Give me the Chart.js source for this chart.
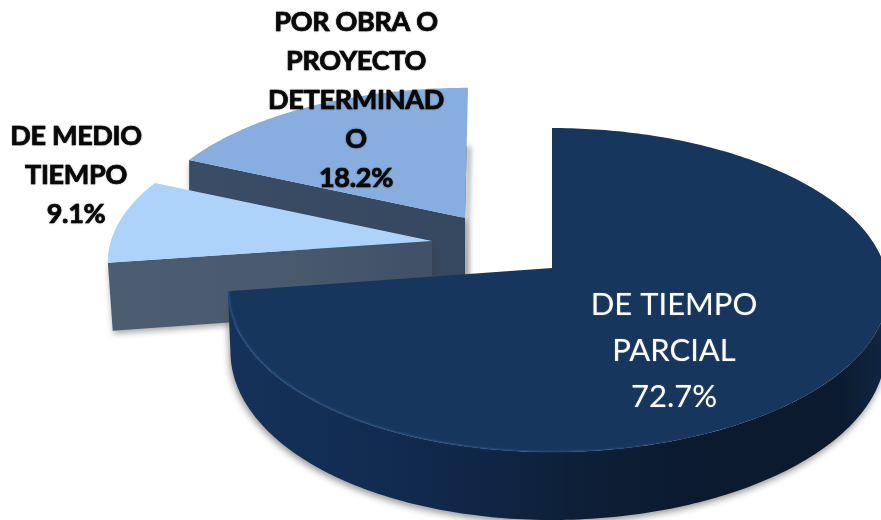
<!DOCTYPE html>
<html>
<head>
<meta charset="utf-8">
<style>html,body{margin:0;padding:0;background:#fff}canvas{display:block}</style>
<script src="https://cdn.jsdelivr.net/npm/chart.js@4/dist/chart.umd.min.js"></script>
</head>
<body>
<canvas id="c" width="881" height="520"></canvas>
<script>
const categories = ['DE TIEMPO PARCIAL', 'DE MEDIO TIEMPO', 'POR OBRA O PROYECTO DETERMINADO'];
const percentages = [72.7, 9.1, 18.2];
const labelLines = [['DE TIEMPO', 'PARCIAL'], ['DE MEDIO', 'TIEMPO'], ['POR OBRA O', 'PROYECTO', 'DETERMINAD', 'O']];
const faceColors = ['#17365d', '#add3fb', '#87aede'];

/* 3D view of the pie: perspective disc, per-slice explosion and depth */
const view = { dx: 111.5, dy: 8, rx: 1.258, ry: 0.6115, skew: 6, persp: 0.136 };
const explode = [
  { dx: 0, dy: 0, sy: 1, depth: 60, base: 0.992, lean: 0 },
  { dx: -120, dy: -27, sy: 0.93, depth: 67, base: 0.985, lean: 0 },
  { dx: -87, dy: -50, sy: 0.93, depth: 66, base: 1, lean: 3 }
];
const labelStyle = [
  { x: 674, y: 315, pitch: 46, font: '31px Lato', color: '#ffffff', spacing: 0 },
  { x: 76, y: 145, pitch: 39, font: 'bold 27px Lato', color: '#0a0a0a', spacing: -0.3 },
  { x: 356, y: 31, pitch: 39, font: 'bold 27px Lato', color: '#0a0a0a', spacing: -0.3 }
];

function project(arc, ex, angle, drop, scale) {
  const u = Math.cos(angle), v = Math.sin(angle);
  const R = arc.outerRadius;
  const w = 1 - view.persp * v;
  return {
    x: arc.x + view.dx + ex.dx + scale * (R * view.rx * u + view.skew * u * u) / w + ex.lean * Math.max(0, -v),
    y: arc.y + view.dy + ex.dy + scale * ex.sy * R * view.ry * v / w + drop / w
  };
}
function apex(arc, ex, drop) {
  return { x: arc.x + view.dx + ex.dx, y: arc.y + view.dy + ex.dy + drop };
}
function rimPoints(arc, ex, from, to, drop, scale) {
  const pts = [], n = Math.max(8, Math.ceil((to - from) * 60));
  for (let i = 0; i <= n; i++) pts.push(project(arc, ex, from + (to - from) * i / n, drop, scale));
  return pts;
}
function trace(ctx, pts) {
  pts.forEach((p, i) => i ? ctx.lineTo(p.x, p.y) : ctx.moveTo(p.x, p.y));
}
function hGrad(ctx, x0, x1, stops) {
  const g = ctx.createLinearGradient(x0, 0, x1, 0);
  stops.forEach(s => g.addColorStop(s[0], s[1]));
  return g;
}
function withShadow(ctx, color, blur, ox, oy, fn) {
  ctx.save();
  ctx.shadowColor = color; ctx.shadowBlur = blur; ctx.shadowOffsetX = ox; ctx.shadowOffsetY = oy;
  fn();
  ctx.restore();
}

function drawSlice(ctx, arc, i) {
  const ex = explode[i], p = arc.getProps(['startAngle', 'endAngle', 'x', 'y', 'outerRadius'], true);
  const a = { x: p.x, y: p.y, outerRadius: p.outerRadius };
  const top = rimPoints(a, ex, p.startAngle, p.endAngle, 0, 1);
  const A = apex(a, ex, 0), B = apex(a, ex, ex.depth);

  if (i === 0) {
    /* curved front wall: only the part of the rim facing the viewer */
    const frontEnd = Math.min(p.endAngle, Math.PI * 1.12);
    const frontTop = rimPoints(a, ex, Math.max(p.startAngle, -0.05), frontEnd, 0, 1);
    const frontBot = rimPoints(a, ex, Math.max(p.startAngle, -0.05), frontEnd, ex.depth, ex.base);
    const band = frontTop.concat(frontBot.slice().reverse());
    ctx.fillStyle = hGrad(ctx, 228, 881, [[0, '#15325a'], [0.2, '#122c52'], [0.38, '#102647'], [0.52, '#0e2039'], [0.7, '#0b1a2e'], [0.93, '#0b1a2d'], [1, '#102540']]);
    withShadow(ctx, 'rgba(60,60,60,0.55)', 7, -1, 3, () => {
      ctx.beginPath(); trace(ctx, band); ctx.closePath(); ctx.fill();
    });
  } else {
    /* inner cut wall facing the viewer */
    const t0 = top[0];
    const b0 = project(a, ex, p.startAngle, ex.depth, ex.base);
    ctx.fillStyle = i === 1
      ? hGrad(ctx, t0.x, A.x, [[0, '#4d5d71'], [0.55, '#4a5a6e'], [1, '#3f5067']])
      : hGrad(ctx, t0.x, A.x, [[0, '#3b4c66'], [1, '#364760']]);
    withShadow(ctx, 'rgba(60,60,60,0.45)', 6, 1, 3, () => {
      ctx.beginPath();
      ctx.moveTo(t0.x, t0.y); ctx.lineTo(A.x, A.y); ctx.lineTo(B.x, B.y); ctx.lineTo(b0.x, b0.y);
      ctx.closePath();
      ctx.fill();
    });
    if (i === 2) {
      /* thin shade falling to the right of the back slice */
      const t1 = top[top.length - 1];
      const m = { x: A.x + (t1.x - A.x) * 0.55, y: A.y + (t1.y - A.y) * 0.55 };
      withShadow(ctx, 'rgba(60,60,60,0.5)', 5, 4, 0, () => {
        ctx.beginPath();
        ctx.moveTo(m.x, m.y); ctx.lineTo(A.x, A.y); ctx.lineTo(B.x, B.y); ctx.lineTo(B.x - 4, B.y);
        ctx.lineTo(m.x - 4, m.y);
        ctx.closePath();
        ctx.fill();
      });
    }
  }

  /* top face */
  ctx.fillStyle = arc.options.backgroundColor;
  ctx.beginPath();
  ctx.moveTo(A.x, A.y);
  top.forEach(q => ctx.lineTo(q.x, q.y));
  ctx.closePath();
  ctx.fill();

  /* bevel highlight along the big slice's front rim */
  if (i === 0) {
    ctx.save();
    ctx.beginPath();
    trace(ctx, rimPoints(a, ex, 0.35, p.endAngle, 0, 0.997));
    ctx.lineWidth = 1.6;
    ctx.lineCap = 'round';
    ctx.shadowColor = 'rgba(40,80,130,0.5)';
    ctx.shadowBlur = 3;
    ctx.strokeStyle = hGrad(ctx, 228, 881, [[0, 'rgba(38,78,128,0.8)'], [0.5, 'rgba(38,78,128,0.6)'], [0.8, 'rgba(30,60,100,0)'], [1, 'rgba(30,60,100,0)']]);
    ctx.stroke();
    ctx.restore();
  }
}

const pie3d = {
  id: 'pie3d',
  beforeDatasetsDraw(chart) {
    const ctx = chart.ctx, arcs = chart.getDatasetMeta(0).data;
    ctx.save();
    [2, 1, 0].forEach(i => drawSlice(ctx, arcs[i], i));
    ctx.restore();
    return false;
  },
  afterDraw(chart) {
    const ctx = chart.ctx;
    ctx.save();
    ctx.textAlign = 'center';
    ctx.textBaseline = 'alphabetic';
    labelStyle.forEach((s, i) => {
      const lines = labelLines[i].concat(percentages[i].toFixed(1) + '%');
      ctx.font = s.font;
      ctx.letterSpacing = s.spacing + 'px';
      ctx.fillStyle = s.color;
      ctx.shadowColor = i ? 'rgba(0,0,0,0.45)' : 'rgba(255,255,255,0.3)';
      ctx.shadowBlur = 1.5;
      lines.forEach((t, k) => {
        ctx.fillText(t, s.x, s.y + k * s.pitch);
        if (i) { ctx.lineWidth = 0.7; ctx.strokeStyle = s.color; ctx.strokeText(t, s.x, s.y + k * s.pitch); }
      });
    });
    ctx.restore();
  }
};

new Chart(document.getElementById('c'), {
  type: 'pie',
  data: { labels: categories, datasets: [{ data: percentages, backgroundColor: faceColors, borderWidth: 0 }] },
  options: {
    responsive: false,
    animation: false,
    rotation: 0,
    layout: { padding: 0 },
    plugins: { legend: { display: false }, tooltip: { enabled: false }, title: { display: false } }
  },
  plugins: [pie3d]
});
</script>
</body>
</html>
